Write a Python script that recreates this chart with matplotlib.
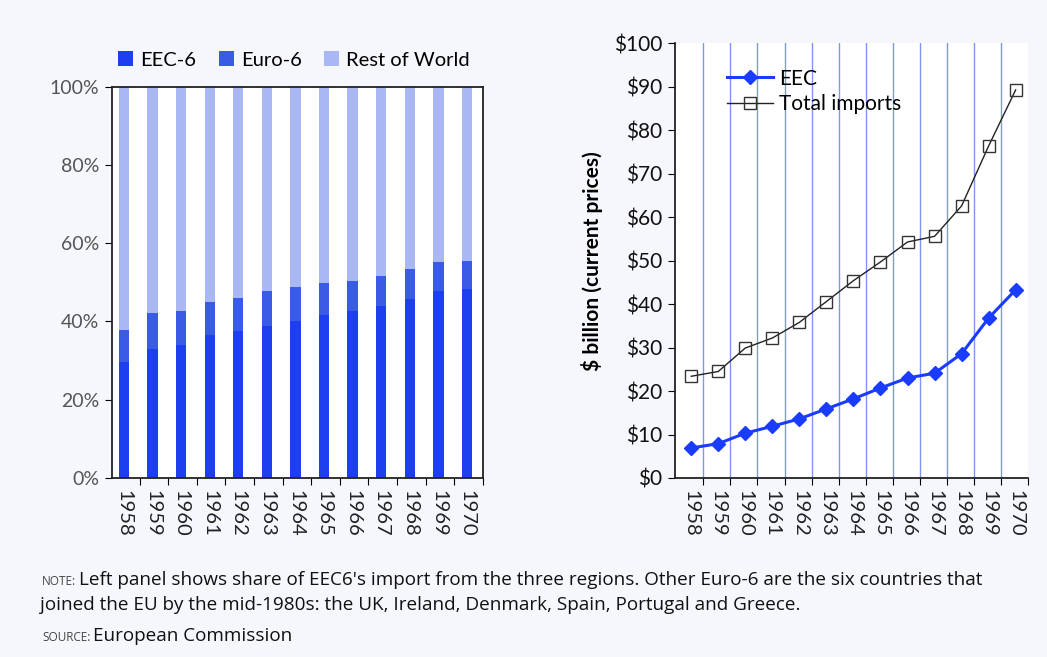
import matplotlib
matplotlib.use("Agg")
import matplotlib.pyplot as plt
import numpy as np

years = [str(y) for y in range(1958, 1971)]

# left panel: share of EEC6 imports (%)
eec6_share = [29.6, 33.0, 33.9, 36.6, 37.5, 38.8, 40.2, 41.7, 42.8, 43.9, 45.8, 47.9, 48.4]
euro6_share = [8.3, 9.2, 8.7, 8.5, 8.5, 9.1, 8.5, 8.1, 7.6, 7.8, 7.7, 7.3, 7.1]
row_share = [100 - a - b for a, b in zip(eec6_share, euro6_share)]

# right panel: $ billion, current prices
eec_imports = [6.9, 7.9, 10.3, 11.9, 13.6, 15.9, 18.2, 20.7, 23.0, 24.1, 28.6, 36.8, 43.3]
total_imports = [23.4, 24.5, 29.9, 32.2, 35.8, 40.6, 45.4, 49.7, 54.3, 55.6, 62.6, 76.4, 89.3]

bg = "#f6f7fc"
c_eec = "#1d3ff0"
c_euro = "#3a5be6"
c_row = "#a9b7f2"

plt.rcParams['font.family'] = ['Lato', 'DejaVu Sans']

fig = plt.figure(figsize=(10.47, 6.57), dpi=100, facecolor=bg)
x = np.arange(len(years))

# ---- left panel
ax1 = fig.add_axes([0.107, 0.2725, 0.354, 0.5955])
ax1.bar(x, eec6_share, width=0.36, color=c_eec, label="EEC-6")
ax1.bar(x, euro6_share, width=0.36, bottom=eec6_share, color=c_euro, label="Euro-6")
ax1.bar(x, row_share, width=0.36, bottom=np.add(eec6_share, euro6_share),
        color=c_row, label="Rest of World")
ax1.set_xlim(-0.42, 12.49)
ax1.set_ylim(0, 100)
ax1.set_yticks(range(0, 101, 20))
ax1.set_yticklabels([f"{v}%" for v in range(0, 101, 20)], fontsize=14, color="#555555")
ax1.set_xticks(x + 0.55)
ax1.set_xticklabels([])
ax1.set_xticks(x, minor=True)
ax1.set_xticklabels(years, minor=True, rotation=-90, fontsize=14.5, color="#222222")
ax1.tick_params(axis='x', which='minor', length=0, pad=9)
ax1.tick_params(axis='x', which='major', length=5, direction='out')
ax1.tick_params(axis='y', length=5, direction='out', pad=4)
for s in ax1.spines.values():
    s.set_linewidth(1.3)
    s.set_color("#222222")
ax1.legend(loc='lower left', bbox_to_anchor=(-0.005, 1.025), ncol=3, frameon=False,
           fontsize=14.5, handlelength=0.75, handleheight=0.75, handletextpad=0.35,
           columnspacing=1.1, borderaxespad=0)

# ---- right panel
ax2 = fig.add_axes([0.6447, 0.2725, 0.337, 0.6615])
ax2.set_facecolor("white")
for b in x[:-1] + 0.45:
    ax2.axvline(b, color="#8095ef", lw=1, zorder=0)
ax2.plot(x, eec_imports, color="#1a3cff", lw=2.2, marker='D', markersize=7, label="EEC")
ax2.plot(x, total_imports, color="#222222", lw=1, marker='s', markersize=9,
         markerfacecolor='none', markeredgecolor="#333333", label="Total imports")
ax2.set_xlim(-0.6, 12.45)
ax2.set_ylim(0, 100)
ax2.set_yticks(range(0, 101, 10))
ax2.set_yticklabels([f"${v}" for v in range(0, 101, 10)], fontsize=15, color="#111111")
ax2.set_xticks(x + 0.45)
ax2.set_xticklabels([])
ax2.set_xticks(x, minor=True)
ax2.set_xticklabels(years, minor=True, rotation=-90, fontsize=14.5, color="#222222")
ax2.tick_params(axis='x', which='minor', length=0, pad=9)
ax2.tick_params(axis='x', which='major', length=5, direction='out')
ax2.tick_params(axis='y', length=5, direction='out', pad=4)
ax2.spines['top'].set_visible(False)
ax2.spines['right'].set_visible(False)
for s in ('left', 'bottom'):
    ax2.spines[s].set_linewidth(1.3)
    ax2.spines[s].set_color("#222222")
ax2.set_ylabel("$ billion (current prices)", fontsize=15, fontweight='bold', labelpad=8)
ax2.legend(loc='upper left', bbox_to_anchor=(0.095, 0.985), frameon=False, fontsize=15,
           handlelength=2.2, handletextpad=0.3, labelspacing=0.25)

# ---- footnote
renderer = fig.canvas.get_renderer()
note_font = ['Open Sans', 'DejaVu Sans']

def smallcaps_line(xf, yf, head, rest):
    t = fig.text(xf, yf, head, fontsize=8.5, color="#444444", va='baseline', family=note_font)
    bb = t.get_window_extent(renderer)
    fig.text(bb.x1 / fig.bbox.width + 0.003, yf, rest, fontsize=13.6, color="#111111",
             va='baseline', family=note_font)

smallcaps_line(0.04, 0.11, "NOTE:", "Left panel shows share of EEC6's import from the three regions. "
               "Other Euro-6 are the six countries that")
fig.text(0.038, 0.072, "joined the EU by the mid-1980s: the UK, Ireland, Denmark, Spain, Portugal and Greece.",
         fontsize=13.6, color="#111111", va='baseline', family=note_font)
smallcaps_line(0.04, 0.024, "SOURCE:", "European Commission")

fig.savefig("out.png", dpi=100, facecolor=bg)
